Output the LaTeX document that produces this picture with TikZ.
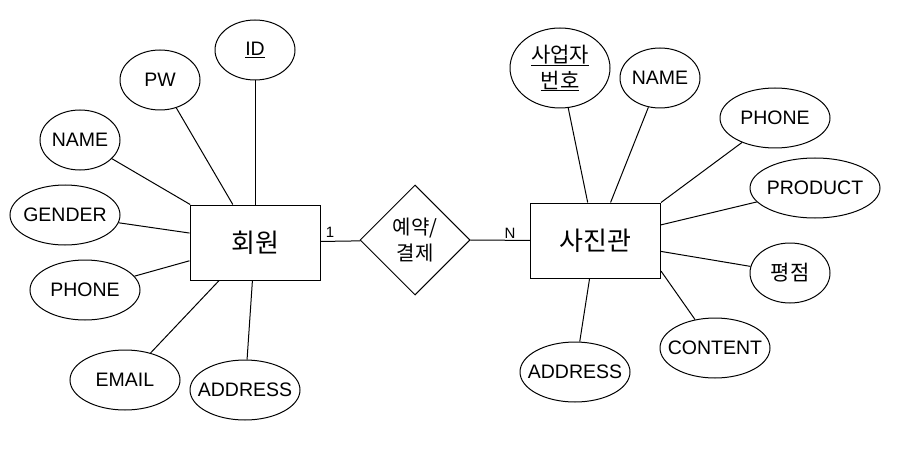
\documentclass[tikz,border=0pt]{standalone}
\usepackage{fontspec}
\setmainfont{Liberation Sans}
\newfontfamily\krfont{Noto Sans CJK KR}
\usetikzlibrary{shapes.geometric}
\begin{document}
\begin{tikzpicture}[x=1pt,y=-1pt,
  attr/.style={ellipse,draw,line width=1pt,inner sep=0pt},
  ent/.style={rectangle,draw,line width=1pt,minimum width=130pt,minimum height=75pt,inner sep=0pt,font=\krfont\fontsize{26}{30}\selectfont},
  rel/.style={diamond,draw,line width=1pt,minimum width=110pt,minimum height=110pt,inner sep=0pt},
  lab/.style={font=\fontsize{19.5}{23}\selectfont,inner sep=0pt,align=center},
  klab/.style={font=\krfont\fontsize{21}{26}\selectfont,inner sep=0pt,align=center},
  conn/.style={line width=1pt},
  card/.style={font=\fontsize{15}{18}\selectfont,inner sep=0pt}]
\useasboundingbox (0,0) rectangle (901,465);
\fill[white] (0,0) rectangle (901,465);

% entities and relationship
\node[ent] (hw) at (255,242.5) {회원};
\node[ent] (sj) at (595.5,240.5) {사진관};
\node[rel,label={[klab,font=\krfont\fontsize{20}{26}\selectfont]center:{예약/\\결제}}] (rsv) at (415,240) {};

% attributes of 회원
\node[attr,minimum width=80pt,minimum height=60pt,label={[lab]center:{\underline{ID}}}] (id) at (255,50) {};
\node[attr,minimum width=80pt,minimum height=60pt,label={[lab]center:PW}] (pw) at (160,80) {};
\node[attr,minimum width=80pt,minimum height=60pt,label={[lab]center:NAME}] (namel) at (80,140) {};
\node[attr,minimum width=110pt,minimum height=60pt,label={[lab]center:GENDER}] (gender) at (65,215) {};
\node[attr,minimum width=110pt,minimum height=60pt,label={[lab]center:PHONE}] (phonel) at (85,290) {};
\node[attr,minimum width=110pt,minimum height=60pt,label={[lab]center:EMAIL}] (email) at (125,380) {};
\node[attr,minimum width=110pt,minimum height=60pt,label={[lab]center:ADDRESS}] (addrl) at (245,390) {};

% attributes of 사진관
\node[attr,minimum width=100pt,minimum height=80pt,label={[klab]center:{\underline{사업자}\\\underline{번호}}}] (bizno) at (560,68) {};
\node[attr,minimum width=80pt,minimum height=60pt,label={[lab]center:NAME}] (namer) at (660,78) {};
\node[attr,minimum width=110pt,minimum height=60pt,label={[lab]center:PHONE}] (phoner) at (775,118) {};
\node[attr,minimum width=130pt,minimum height=60pt,label={[lab]center:PRODUCT}] (product) at (815,188) {};
\node[attr,minimum width=80pt,minimum height=60pt,label={[klab]center:평점}] (rating) at (790,273) {};
\node[attr,minimum width=110pt,minimum height=60pt,label={[lab]center:CONTENT}] (content) at (715,348) {};
\node[attr,minimum width=110pt,minimum height=60pt,label={[lab]center:ADDRESS}] (addrr) at (575,372) {};

% cardinalities
\node[card] (one) at (330,232) {1};
\node[card] (nlab) at (510,233) {N};

% connectors
\foreach \a in {id,pw,namel,gender,phonel,email,addrl} \draw[conn] (\a) -- (hw);
\foreach \a in {bizno,namer,product,rating,addrr} \draw[conn] (\a) -- (sj);
\draw[conn] (phoner) -- (sj.north east);
\draw[conn] (content) -- (sj.-25);
\draw[conn] (hw) -- (rsv);
\draw[conn] (rsv) -- (sj);
\end{tikzpicture}
\end{document}
